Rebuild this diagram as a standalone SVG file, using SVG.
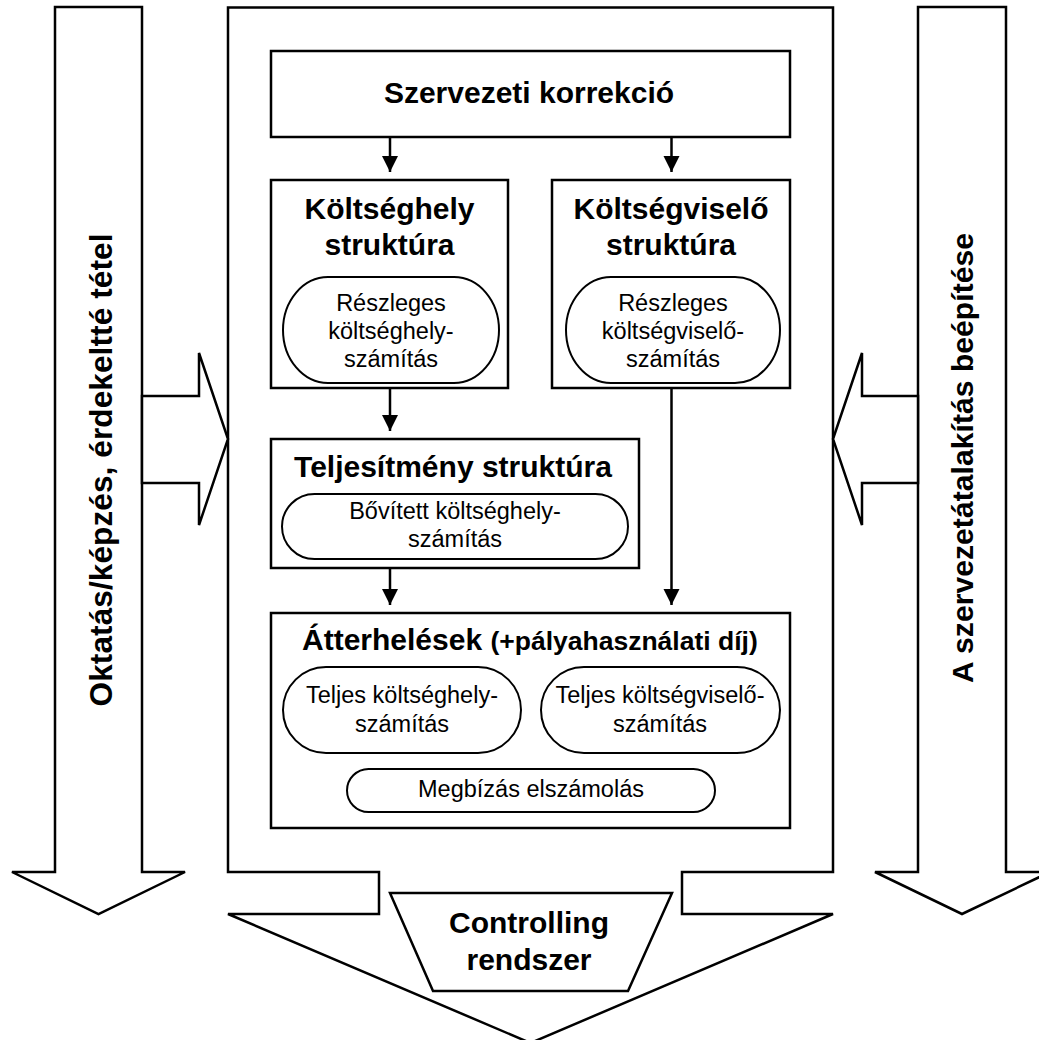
<svg xmlns="http://www.w3.org/2000/svg" width="1039" height="1040" viewBox="0 0 1039 1040">
<style>
.s{fill:#fff;stroke:#000;stroke-width:2.5;stroke-linejoin:miter}
.c{fill:#fff;stroke:#000;stroke-width:2}
.b{font-family:"Liberation Sans",Arial,sans-serif;font-weight:bold;font-size:30px;fill:#000;text-anchor:middle}
.bl{text-anchor:start}
.r{font-family:"Liberation Sans",Arial,sans-serif;font-size:23.5px;fill:#000;text-anchor:middle}
.ln{stroke:#000;stroke-width:2.5;fill:none}
</style>
<defs>
<marker id="ah" markerWidth="7" markerHeight="7" refX="6.4" refY="3.2" orient="auto" markerUnits="strokeWidth">
<path d="M0,0 L6.4,3.2 L0,6.4 Z" fill="#000"/>
</marker>
</defs>
<rect width="1039" height="1040" fill="#fff"/>
<g id="arrow-left">
<polygon class="s" points="55,7 142,7 142,872 185,872 98.5,914 12,872 55,872"/>
<text class="b" transform="translate(112,470) rotate(-90)" style="font-size:31.5px" textLength="473" lengthAdjust="spacing">Oktatás/képzés, érdekeltté tétel</text>
</g>
<g id="arrow-right">
<polygon class="s" points="918,7 1006,7 1006,872 1050,872 962,914 875,872 918,872"/>
<text class="b" transform="translate(973,458) rotate(-90)" textLength="450" lengthAdjust="spacing">A szervezetátalakítás beépítése</text>
</g>
<g id="main-frame">
<polygon class="s" points="228,7.5 833,7.5 833,872 682,872 682,914 833,914 530.5,1043 228,914 379,914 379,872 228,872"/>
</g>
<g id="in-left">
<polygon class="s" points="142,396 199,396 199,353 228,439 199,525 199,483 142,483"/>
</g>
<g id="in-right">
<polygon class="s" points="918,396 862,396 862,353 833,439 862,525 862,483 918,483"/>
</g>
<g id="controlling">
<polygon class="s" points="390,893 672,893 628,991 433,991"/>
<text class="b" x="529" y="933">Controlling</text>
<text class="b" x="529" y="970">rendszer</text>
</g>
<g id="szervezeti-korrekcio">
<rect class="s" x="271" y="51" width="519" height="86"/>
<text class="b" x="529" y="103">Szervezeti korrekció</text>
</g>
<g id="koltseghely">
<rect class="s" x="271" y="180" width="237" height="208"/>
<text class="b" x="389.5" y="219">Költséghely</text>
<text class="b" x="389.5" y="255">struktúra</text>
<rect class="c" x="283" y="277" width="216" height="106" rx="45" ry="53"/>
<text class="r" x="391" y="311">Részleges</text>
<text class="r" x="391" y="339">költséghely-</text>
<text class="r" x="391" y="367">számítás</text>
</g>
<g id="koltsegviselo">
<rect class="s" x="552" y="180" width="238" height="208"/>
<text class="b" x="671" y="219">Költségviselő</text>
<text class="b" x="671" y="255">struktúra</text>
<rect class="c" x="566" y="277" width="214" height="106" rx="45" ry="53"/>
<text class="r" x="673" y="311">Részleges</text>
<text class="r" x="673" y="339">költségviselő-</text>
<text class="r" x="673" y="367">számítás</text>
</g>
<g id="teljesitmeny">
<rect class="s" x="271" y="439" width="368" height="129"/>
<text class="b" x="453" y="477">Teljesítmény struktúra</text>
<rect class="c" x="282" y="494" width="346" height="65" rx="32.5" ry="32.5"/>
<text class="r" x="455" y="519">Bővített költséghely-</text>
<text class="r" x="455" y="547">számítás</text>
</g>
<g id="atterhelesek">
<rect class="s" x="271" y="613" width="519" height="215"/>
<text class="b bl" x="302" y="650">Átterhelések <tspan style="font-size:26.5px">(+pályahasználati díj)</tspan></text>
<rect class="c" x="283" y="667" width="238" height="86" rx="43" ry="43"/>
<text class="r" x="402" y="703">Teljes költséghely-</text>
<text class="r" x="402" y="732">számítás</text>
<rect class="c" x="541" y="667" width="239" height="86" rx="43" ry="43"/>
<text class="r" x="660" y="703">Teljes költségviselő-</text>
<text class="r" x="660" y="732">számítás</text>
<rect class="c" x="347" y="769" width="368" height="43" rx="21.5" ry="21.5"/>
<text class="r" x="531" y="797">Megbízás elszámolás</text>
</g>
<g id="connectors">
<line class="ln" x1="390" y1="137" x2="390" y2="172" marker-end="url(#ah)"/>
<line class="ln" x1="671.5" y1="137" x2="671.5" y2="172" marker-end="url(#ah)"/>
<line class="ln" x1="390" y1="388" x2="390" y2="431" marker-end="url(#ah)"/>
<line class="ln" x1="390" y1="568" x2="390" y2="605" marker-end="url(#ah)"/>
<line class="ln" x1="671.5" y1="388" x2="671.5" y2="605" marker-end="url(#ah)"/>
</g>
</svg>
